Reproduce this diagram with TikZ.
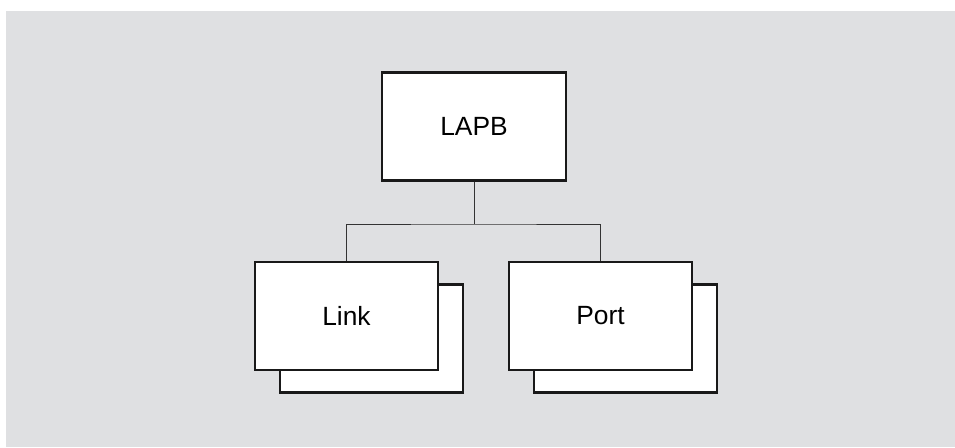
\documentclass[tikz,border=0pt]{standalone}
\usepackage{fontspec}
\setmainfont{Liberation Sans}
\usepackage{xcolor}
\usetikzlibrary{positioning}
\definecolor{panel}{HTML}{DFE0E2}

\begin{document}
\begin{tikzpicture}[x=0.03cm,y=-0.03cm]
\useasboundingbox (0,0) rectangle (955,447);
\fill[panel] (6,11) rectangle (955,447);
\tikzstyle{every node}=[draw=black!90,fill=white,line width=1.9pt,minimum width=5.5cm,minimum height=3.24cm,font=\fontsize{22.5}{27}\selectfont];

\draw node (lapb) at (474,126.5) {LAPB};
\draw node (linkb) at (371.5,338.5) {};
\draw node (link) at (346.5,316) {Link};
\draw node (portb) at (625.5,338.5) {};
\draw node (port) at (600.5,316) {Port};

\coordinate (fork) at (474,224);
\draw[line width=0.8pt,black!80] (lapb.south) -- (fork)
(link.north) |- (fork) -| (port.north);
\end{tikzpicture}
\end{document}
